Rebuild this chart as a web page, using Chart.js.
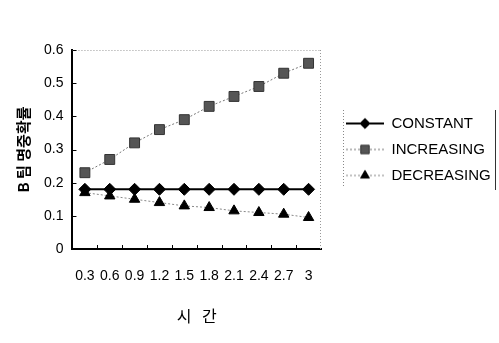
<!DOCTYPE html>
<html>
<head>
<meta charset="utf-8">
<script src="https://cdn.jsdelivr.net/npm/chart.js@4.4.1/dist/chart.umd.min.js"></script>
<style>
    html, body { margin: 0; padding: 0; background: #fff; }
    #wrap { width: 499px; height: 343px; position: relative; }
</style>
</head>
<body>
<div id="wrap"><canvas id="chart"></canvas></div>
<script>
// Données
const timeLabels = ['0.3', '0.6', '0.9', '1.2', '1.5', '1.8', '2.1', '2.4', '2.7', '3'];
const constantValues = [0.18, 0.18, 0.18, 0.18, 0.18, 0.18, 0.18, 0.18, 0.18, 0.18];
const increasingValues = [0.23, 0.27, 0.32, 0.36, 0.39, 0.43, 0.46, 0.49, 0.53, 0.56];
const decreasingValues = [0.17, 0.16, 0.15, 0.14, 0.13, 0.125, 0.115, 0.11, 0.105, 0.095];

const seriesNames = ['CONSTANT', 'INCREASING', 'DECREASING'];
const yTitle = 'B 팀 명중확률';
const xTitle = '시   간';

const latinFont = "'Liberation Sans', Arial, sans-serif";
const koreanFont = "'Noto Sans CJK KR', sans-serif";

const seriesStyles = [
    { line: '#000', width: 2, dash: [], point: 'rectRot', radius: 6, fill: '#000', stroke: '#000' },
    { line: '#777', width: 1, dash: [2, 2], point: 'rect', radius: 7, fill: '#555', stroke: '#333' },
    { line: '#888', width: 1, dash: [2, 2], point: 'triangle', radius: 6, fill: '#000', stroke: '#000' }
];

/**
 * Petite icône de légende : trait + marqueur
 */
function makeLegendIcon(style) {
    const c = document.createElement('canvas');
    c.width = 52;
    c.height = 16;
    const ctx = c.getContext('2d');
    ctx.strokeStyle = style.line;
    ctx.lineWidth = style.width;
    ctx.setLineDash(style.dash);
    ctx.beginPath();
    ctx.moveTo(14, 8);
    ctx.lineTo(52, 8);
    ctx.stroke();
    ctx.setLineDash([]);
    ctx.fillStyle = style.fill;
    ctx.strokeStyle = style.stroke;
    ctx.lineWidth = 1;
    Chart.helpers.drawPoint(ctx, { pointStyle: style.point, radius: style.radius * 0.85, rotation: 0, borderWidth: 1 }, 33, 8);
    return c;
}

const legendIcons = seriesStyles.map(makeLegendIcon);

// Cadre du graphique et petites graduations internes
const framePlugin = {
    id: 'frame',
    afterDraw(chart) {
        const { ctx, chartArea: a, scales } = chart;
        ctx.save();

        // Bords haut et droite en pointillés gris
        ctx.strokeStyle = '#999';
        ctx.lineWidth = 1;
        ctx.setLineDash([1, 2]);
        ctx.beginPath();
        ctx.moveTo(a.left, a.top + 0.5);
        ctx.lineTo(a.right, a.top + 0.5);
        ctx.moveTo(a.right - 0.5, a.top);
        ctx.lineTo(a.right - 0.5, a.bottom);
        ctx.stroke();
        ctx.setLineDash([]);

        // Graduations internes
        ctx.strokeStyle = '#000';
        ctx.beginPath();
        scales.y.ticks.forEach(t => {
            const y = Math.round(scales.y.getPixelForValue(t.value)) + 0.5;
            ctx.moveTo(a.left, y);
            ctx.lineTo(a.left + 4, y);
        });
        for (let i = 1; i < timeLabels.length; i++) {
            const x = Math.round((scales.x.getPixelForValue(i - 1) + scales.x.getPixelForValue(i)) / 2) + 0.5;
            ctx.moveTo(x, a.bottom);
            ctx.lineTo(x, a.bottom - 4);
        }
        ctx.stroke();

        // Bordures de la légende
        ctx.strokeStyle = '#888';
        ctx.setLineDash([1, 2]);
        ctx.beginPath();
        ctx.moveTo(343.5, 110);
        ctx.lineTo(343.5, 188);
        ctx.stroke();
        ctx.setLineDash([]);
        ctx.strokeStyle = '#333';
        ctx.beginPath();
        ctx.moveTo(495.5, 110);
        ctx.lineTo(495.5, 190);
        ctx.stroke();
        ctx.restore();
    }
};

const valueSets = [constantValues, increasingValues, decreasingValues];

const datasets = seriesNames.map((name, i) => {
    const s = seriesStyles[i];
    return {
        label: name,
        data: valueSets[i],
        borderColor: s.line,
        borderWidth: s.width,
        borderDash: s.dash,
        pointStyle: s.point,
        pointRadius: s.radius,
        pointBackgroundColor: s.fill,
        pointBorderColor: s.stroke,
        pointBorderWidth: 1,
        tension: 0,
        fill: false
    };
});

new Chart(document.getElementById('chart'), {
    type: 'line',
    data: { labels: timeLabels, datasets: datasets },
    options: {
        responsive: true,
        maintainAspectRatio: false,
        animation: false,
        layout: { padding: { left: 7, top: 50, right: 0, bottom: 13 } },
        plugins: {
            tooltip: { enabled: false },
            legend: {
                position: 'right',
                fullSize: false,
                maxWidth: 178,
                labels: {
                    usePointStyle: true,
                    pointStyleWidth: 52,
                    color: '#000',
                    padding: 11,
                    font: { family: latinFont, size: 15 },
                    generateLabels(chart) {
                        const items = Chart.defaults.plugins.legend.labels.generateLabels(chart);
                        items.forEach((it, i) => { it.pointStyle = legendIcons[i]; });
                        return items;
                    }
                }
            }
        },
        scales: {
            x: {
                offset: true,
                grid: { drawOnChartArea: false, drawTicks: false },
                border: { display: true, color: '#000', width: 2 },
                ticks: {
                    color: '#000',
                    padding: 19,
                    autoSkip: false,
                    maxRotation: 0,
                    font: { family: latinFont, size: 14 }
                },
                title: {
                    display: true,
                    text: xTitle,
                    color: '#000',
                    padding: { top: 3, bottom: 4 },
                    font: { family: koreanFont, size: 16 }
                }
            },
            y: {
                min: 0,
                max: 0.6,
                grid: { drawOnChartArea: false, drawTicks: false },
                border: { display: true, color: '#000', width: 2 },
                ticks: {
                    stepSize: 0.1,
                    color: '#000',
                    padding: 9,
                    font: { family: latinFont, size: 14 }
                },
                title: {
                    display: true,
                    text: yTitle,
                    color: '#000',
                    padding: { top: 7, bottom: 3 },
                    font: { family: koreanFont, size: 15, weight: 'bold' }
                }
            }
        }
    },
    plugins: [framePlugin]
});
</script>
</body>
</html>
